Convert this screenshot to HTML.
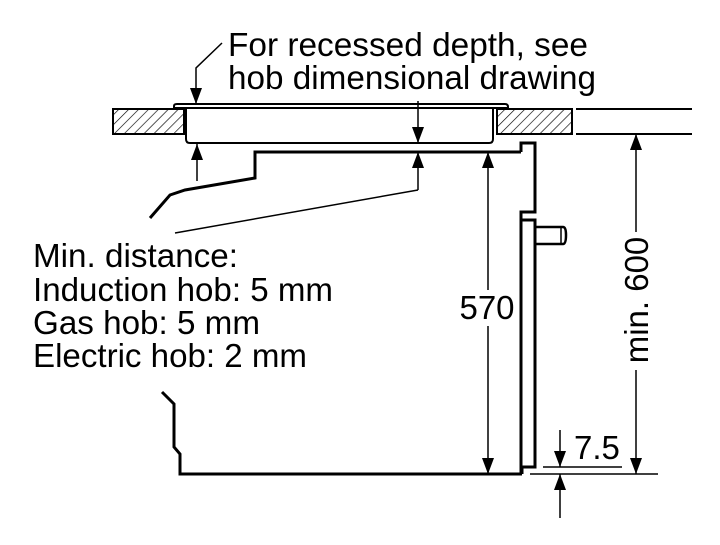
<!DOCTYPE html>
<html><head><meta charset="utf-8"><style>
html,body{margin:0;padding:0;background:#fff;}
svg{display:block;}
text{font-family:"Liberation Sans",sans-serif;fill:#000;}
</style></head><body>
<svg width="720" height="545" viewBox="0 0 720 545" xmlns="http://www.w3.org/2000/svg">
<defs>
<pattern id="h" patternUnits="userSpaceOnUse" width="7" height="7" patternTransform="rotate(45)">
<line x1="0" y1="0" x2="0" y2="7" stroke="#000" stroke-width="1.3"/>
</pattern>
<marker id="a" viewBox="0 0 16 12" refX="16" refY="6" markerWidth="16" markerHeight="12" markerUnits="userSpaceOnUse" orient="auto"><path d="M0,0 L16,6 L0,12 Z" fill="#000"/></marker>
</defs>
<text x="228" y="56" font-size="33" textLength="360" lengthAdjust="spacingAndGlyphs">For recessed depth, see</text>
<text x="228" y="89" font-size="33" textLength="368" lengthAdjust="spacingAndGlyphs">hob dimensional drawing</text>
<text x="33" y="267" font-size="33" textLength="205" lengthAdjust="spacingAndGlyphs">Min. distance:</text>
<text x="33" y="301" font-size="33" textLength="300" lengthAdjust="spacingAndGlyphs">Induction hob: 5 mm</text>
<text x="33" y="334" font-size="33" textLength="227" lengthAdjust="spacingAndGlyphs">Gas hob: 5 mm</text>
<text x="33" y="367" font-size="33" textLength="274" lengthAdjust="spacingAndGlyphs">Electric hob: 2 mm</text>
<text x="487" y="319" font-size="33" text-anchor="middle">570</text>
<text x="574" y="459" font-size="33">7.5</text>
<text transform="translate(648,300) rotate(-90)" font-size="33" text-anchor="middle">min. 600</text>

<g stroke="#000" fill="none">
<rect x="113" y="109" width="71" height="25" fill="url(#h)" stroke-width="2"/>
<rect x="497" y="109" width="75" height="25" fill="url(#h)" stroke-width="2"/>
<line x1="576" y1="109" x2="692" y2="109" stroke-width="2"/>
<line x1="576" y1="134" x2="692" y2="134" stroke-width="2"/>
<path d="M174,109 L174,106 Q174,104 177,104 L505,104 Q508,104 508,107 L508,109" stroke-width="2"/>
<line x1="174" y1="108" x2="508" y2="108" stroke-width="2"/>
<path d="M186,108 L186,139 Q186,143 190,143 L489,143 Q493,143 493,139 L493,108" stroke-width="2"/>
<path d="M222,43 L196,68 L196,104" stroke-width="1.5" marker-end="url(#a)"/>
<line x1="418" y1="101" x2="418" y2="143" stroke-width="1.5" marker-end="url(#a)"/>
<line x1="418" y1="190" x2="418" y2="152" stroke-width="1.5" marker-end="url(#a)"/>
<line x1="418" y1="190" x2="175" y2="233" stroke-width="1.5"/>
<line x1="197" y1="181" x2="197" y2="144" stroke-width="1.5" marker-end="url(#a)"/>
<path d="M521,152 L255,152 L255,178 L185,190 L170,195 L150,218" stroke-width="3"/>
<path d="M521,152 L521,143 L535,143 L535,212 L521,212 L521,220 L535,220 L535,467 L522,467 L522,474" stroke-width="3"/>
<line x1="521" y1="212" x2="521" y2="474" stroke-width="3"/>
<path d="M535,227 L563,227 Q566,227 566,235 Q566,244 563,244 L535,244" stroke-width="2.5"/>
<line x1="561" y1="228" x2="561" y2="243" stroke-width="1.5"/>
<path d="M162,392 L174,404 L174,447 L180,454 L180,474 L522,474" stroke-width="3"/>
<line x1="488" y1="290" x2="488" y2="152" stroke-width="1.5" marker-end="url(#a)"/>
<line x1="488" y1="326" x2="488" y2="474" stroke-width="1.5" marker-end="url(#a)"/>
<line x1="636" y1="232" x2="636" y2="134" stroke-width="1.5" marker-end="url(#a)"/>
<line x1="636" y1="370" x2="636" y2="474" stroke-width="1.5" marker-end="url(#a)"/>
<line x1="530" y1="474" x2="658" y2="474" stroke-width="1.5"/>
<line x1="543" y1="467" x2="622" y2="467" stroke-width="1.5"/>
<line x1="560" y1="430" x2="560" y2="467" stroke-width="1.5" marker-end="url(#a)"/>
<line x1="560" y1="518" x2="560" y2="474" stroke-width="1.5" marker-end="url(#a)"/>
</g>
</svg>
</body></html>
